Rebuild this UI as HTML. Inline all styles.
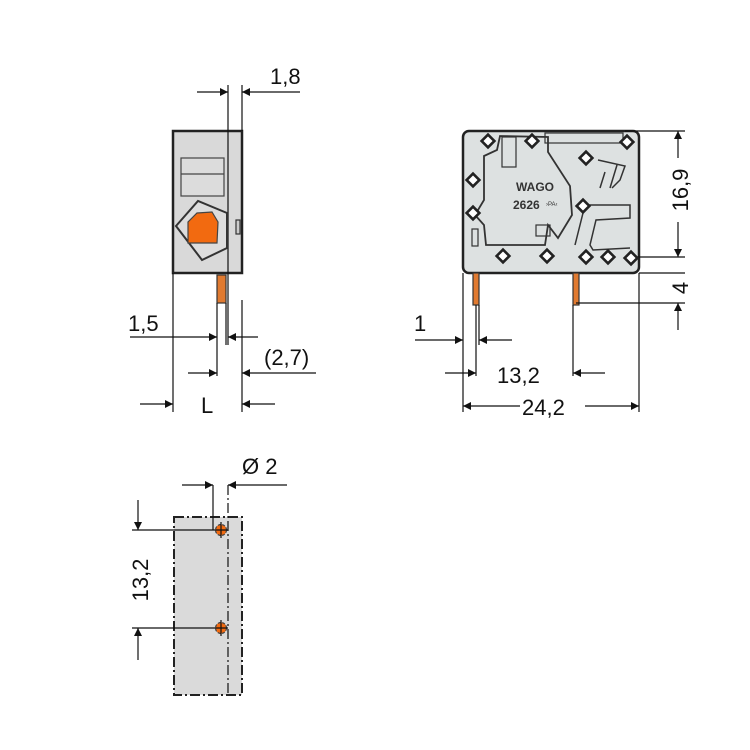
<!DOCTYPE html>
<html><head><meta charset="utf-8"><style>
html,body{margin:0;padding:0;background:#fff}
svg{display:block}
text{font-family:"Liberation Sans",sans-serif;font-size:22px;fill:#111}
</style></head><body>
<svg width="750" height="750" viewBox="0 0 750 750" xmlns="http://www.w3.org/2000/svg">
<defs>
<marker id="a" viewBox="0 0 10 10" refX="10" refY="5" markerWidth="11" markerHeight="8" markerUnits="userSpaceOnUse" orient="auto"><path d="M0,0 L10,5 L0,10 z" fill="#111"/></marker>
<g id="dm"><rect x="-4.5" y="-4.5" width="9" height="9" transform="rotate(45)" fill="#fff" stroke="#222" stroke-width="2.6"/></g>
</defs>
<g stroke="#111" stroke-width="1.2" fill="none">
<!-- LEFT VIEW -->
<rect x="173" y="131" width="69" height="142" fill="#d9d9d9" stroke="#222" stroke-width="2.5"/>
<line x1="228" y1="85" x2="228" y2="345"/>
<line x1="242" y1="85" x2="242" y2="131"/>
<rect x="181" y="158" width="43" height="38" fill="#dcdcdc" stroke="#444"/>
<line x1="181" y1="174" x2="224" y2="174" stroke="#444"/>
<polygon points="176,226 198,201 227,213 227,248 202,260" fill="#ddd" stroke="#333" stroke-width="2"/>
<polygon points="197,213 212,212 218,222 217,243 188,243 188,222" fill="#f26a10" stroke="#444"/>
<rect x="236" y="220" width="4" height="14" fill="#ccc" stroke="#333"/>
<rect x="217" y="275" width="9" height="28" fill="#e07a30" stroke="#333"/>
<line x1="217" y1="303" x2="217" y2="376"/>
<line x1="226" y1="303" x2="226" y2="345"/>
<line x1="173" y1="273" x2="173" y2="412"/>
<line x1="242" y1="300" x2="242" y2="412"/>
<line x1="197" y1="92" x2="228" y2="92" marker-end="url(#a)"/>
<line x1="300" y1="92" x2="242" y2="92" marker-end="url(#a)"/>
<line x1="130" y1="337" x2="217" y2="337" marker-end="url(#a)"/>
<line x1="258" y1="337" x2="228" y2="337" marker-end="url(#a)"/>
<line x1="188" y1="373" x2="217" y2="373" marker-end="url(#a)"/>
<line x1="316" y1="373" x2="242" y2="373" marker-end="url(#a)"/>
<line x1="140" y1="404" x2="173" y2="404" marker-end="url(#a)"/>
<line x1="275" y1="404" x2="242" y2="404" marker-end="url(#a)"/>
<!-- RIGHT VIEW -->
<rect x="463" y="131" width="176" height="142" rx="6" fill="#dde1e1" stroke="#222" stroke-width="2.5"/>
<path d="M484,156 L497,150 L500,136 L548,137 L548,152 L570,186 L572,215 L558,238 L548,225 L545,245 L486,245 L484,225 L475,215 L484,200 Z" stroke="#333" stroke-width="1.8"/>
<rect x="502" y="137" width="14" height="30" stroke="#333"/>
<rect x="545" y="133" width="78" height="10" stroke="#333"/>
<path d="M598,160 L625,166 L620,180 L612,188 M605,172 L600,188 M617,165 L610,188" stroke="#333" stroke-width="1.5"/>
<path d="M575,245 L585,205 L630,205 L630,218 L596,220 L590,245 L593,250 L630,248" stroke="#333" stroke-width="1.5"/>
<rect x="536" y="225" width="14" height="11" stroke="#333"/>
<rect x="472" y="229" width="6" height="17" stroke="#333"/>
<rect x="573" y="273" width="6" height="32" fill="#e07a30" stroke="#333"/>
<rect x="473" y="273" width="6" height="32" fill="#e07a30" stroke="#333"/>
<line x1="476" y1="305" x2="476" y2="376"/>
<line x1="479" y1="305" x2="479" y2="345"/>
<line x1="573" y1="305" x2="573" y2="376"/>
<line x1="463" y1="273" x2="463" y2="412"/>
<line x1="639" y1="273" x2="639" y2="412"/>
<line x1="625" y1="131" x2="685" y2="131"/>
<line x1="631" y1="257" x2="685" y2="257"/>
<line x1="639" y1="273" x2="685" y2="273"/>
<line x1="576" y1="303" x2="685" y2="303"/>
<line x1="678" y1="158" x2="678" y2="131" marker-end="url(#a)"/>
<line x1="678" y1="222" x2="678" y2="257" marker-end="url(#a)"/>
<line x1="678" y1="330" x2="678" y2="303" marker-end="url(#a)"/>
<line x1="415" y1="340" x2="463" y2="340" marker-end="url(#a)"/>
<line x1="512" y1="340" x2="479" y2="340" marker-end="url(#a)"/>
<line x1="445" y1="373" x2="476" y2="373" marker-end="url(#a)"/>
<line x1="605" y1="373" x2="573" y2="373" marker-end="url(#a)"/>
<line x1="520" y1="406" x2="463" y2="406" marker-end="url(#a)"/>
<line x1="585" y1="406" x2="639" y2="406" marker-end="url(#a)"/>
<!-- BOTTOM VIEW -->
<rect x="174" y="517" width="68" height="178" fill="#dadada" stroke="#222" stroke-width="2" stroke-dasharray="10,3,2,3"/>
<line x1="228" y1="485" x2="228" y2="695" stroke-dasharray="10,3,2,3"/>
<line x1="213" y1="485" x2="213" y2="530"/>
<circle cx="221" cy="530" r="5.5" fill="#f26a10" stroke="#444" stroke-dasharray="3,1.5"/>
<circle cx="221" cy="628" r="5.5" fill="#f26a10" stroke="#444" stroke-dasharray="3,1.5"/>
<line x1="132" y1="530" x2="228" y2="530"/>
<line x1="132" y1="628" x2="228" y2="628"/>
<line x1="221" y1="522" x2="221" y2="538"/>
<line x1="221" y1="620" x2="221" y2="636"/>
<line x1="182" y1="485" x2="213" y2="485" marker-end="url(#a)"/>
<line x1="287" y1="485" x2="228" y2="485" marker-end="url(#a)"/>
<line x1="138" y1="500" x2="138" y2="530" marker-end="url(#a)"/>
<line x1="138" y1="660" x2="138" y2="628" marker-end="url(#a)"/>
</g>
<g>
<use href="#dm" x="488" y="141"/><use href="#dm" x="532" y="141"/><use href="#dm" x="586" y="158"/>
<use href="#dm" x="473" y="180"/><use href="#dm" x="473" y="213"/><use href="#dm" x="583" y="206"/>
<use href="#dm" x="503" y="256"/><use href="#dm" x="547" y="256"/><use href="#dm" x="586" y="257"/>
<use href="#dm" x="608" y="257"/><use href="#dm" x="631" y="258"/><use href="#dm" x="627" y="142"/>
</g>
<text x="516" y="191" style="font-size:12px;font-weight:bold;fill:#333">WAGO</text>
<text x="513" y="209" style="font-size:12px;font-weight:bold;fill:#333">2626</text>
<text x="546" y="206" style="font-size:6px;fill:#333">›PA‹</text>
<text x="270" y="84">1,8</text>
<text x="128" y="331">1,5</text>
<text x="264" y="365">(2,7)</text>
<text x="201" y="413">L</text>
<text x="414" y="331">1</text>
<text x="497" y="383">13,2</text>
<text x="522" y="415">24,2</text>
<text transform="translate(688,190) rotate(-90)" text-anchor="middle">16,9</text>
<text transform="translate(688,288) rotate(-90)" text-anchor="middle">4</text>
<text x="242" y="474">Ø 2</text>
<text transform="translate(148,580) rotate(-90)" text-anchor="middle">13,2</text>
</svg>
</body></html>
